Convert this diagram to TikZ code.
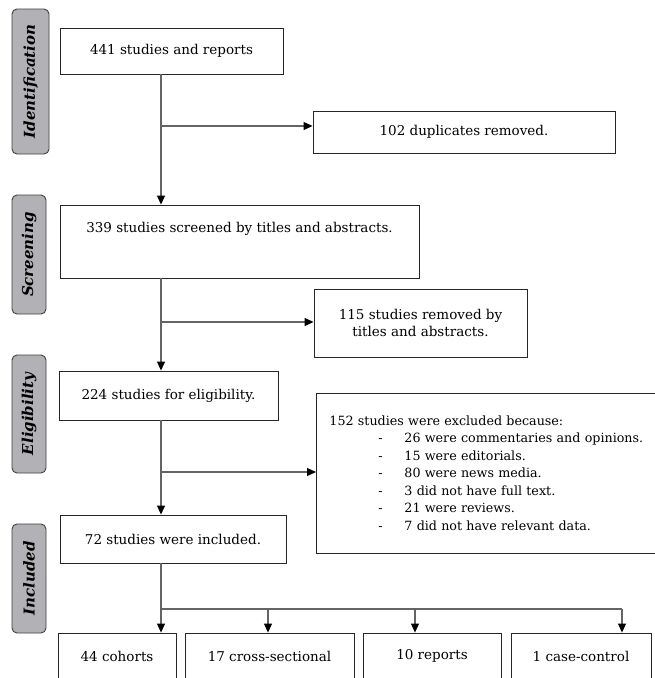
\documentclass[tikz,border=0pt]{standalone}
\usepackage{fontspec}
\setmainfont{DejaVu Serif}
\usetikzlibrary{arrows.meta}

\definecolor{stagegray}{RGB}{178,178,182}
\definecolor{flowgray}{RGB}{100,100,100}
\newcommand{\boxfont}{\fontsize{13.5pt}{17.5pt}\selectfont}
\newcommand{\listfont}{\fontsize{12.7pt}{17.5pt}\selectfont}
\newcommand{\stagefont}{\fontsize{15pt}{17pt}\selectfont\bfseries\itshape}
\newcommand{\dashitem}[1]{\hspace*{49pt}\makebox[26pt][l]{-}#1}

\begin{document}
\begin{tikzpicture}[x=1pt,y=-1pt,
		box/.style={draw=black!85,line width=0.9pt,inner sep=0pt,align=center,font=\boxfont},
		stage/.style={draw=black!75,fill=stagegray,line width=0.9pt,rounded corners=5pt,
			rotate=90,inner sep=0pt,font=\stagefont},
		flow/.style={draw=flowgray,line width=1.1pt,-{Triangle[length=9pt,width=8pt,color=black]}},
		link/.style={draw=flowgray,line width=1.1pt}]
		
		\path[use as bounding box,fill=white] (0,0) rectangle (655,678);
		\clip (0,0) rectangle (655,678);
		
		% stages on the left
		\node[stage,minimum width=145,minimum height=37] (idlab) at (30.5,81.5) {Identification};
		\node[stage,minimum width=119,minimum height=34] (scrlab) at (29,254.5) {Screening};
		\node[stage,minimum width=118,minimum height=34] (eliglab) at (29,414) {Eligibility};
		\node[stage,minimum width=109,minimum height=34] (incllab) at (29,578.5) {Included};
		
		% main column
		\node[box,minimum width=223,minimum height=46] (records) at (171.5,51) {441 studies and reports};
		\node[box,minimum width=359,minimum height=73] (screened) at (239.5,241.5)
			{339 studies screened by titles and abstracts.\\[11pt]\mbox{}};
		\node[box,minimum width=219,minimum height=49] (eligible) at (168.5,395.5) {224 studies for eligibility.};
		\node[box,minimum width=226,minimum height=48] (included) at (173,539) {72 studies were included.};
		
		% removed on the right
		\node[box,minimum width=302,minimum height=42] (duplicates) at (464,132) {102 duplicates removed.};
		\node[box,minimum width=213,minimum height=68] (removed) at (420.5,323) {115 studies removed by\\titles and abstracts.};
		\node[box,anchor=west,align=left,font=\listfont,inner xsep=13pt,text width=340pt,minimum height=160] (excluded) at (316,473)
			{152 studies were excluded because:\\
			\dashitem{26 were commentaries and opinions.}\\
			\dashitem{15 were editorials.}\\
			\dashitem{80 were news media.}\\
			\dashitem{3 did not have full text.}\\
			\dashitem{21 were reviews.}\\
			\dashitem{7 did not have relevant data.}};
		
		% study designs
		\node[box,minimum width=118,minimum height=46] (cohorts) at (117,656) {44 cohorts};
		\node[box,minimum width=169,minimum height=46] (crosssec) at (269.5,656) {17 cross-sectional};
		\node[box,minimum width=138,minimum height=46] (reports) at (432,656) {10 reports};
		\node[box,minimum width=140,minimum height=46] (casectrl) at (581,656) {1 case-control};
		
		% connectors
		\coordinate (spine) at (161,0);
		\coordinate (dupfork) at (161,126);
		\coordinate (remfork) at (161,322);
		\coordinate (excfork) at (161,472);
		\coordinate (s1) at (161,609);
		\coordinate (s2) at (268,609);
		\coordinate (s3) at (415,609);
		\coordinate (s4) at (622,609);
		
		\draw[flow] (records.south -| spine) -- (screened.north -| spine);
		\draw[flow] (screened.south -| spine) -- (eligible.north -| spine);
		\draw[flow] (eligible.south -| spine) -- (included.north -| spine);
		\draw[flow] (dupfork) -- (dupfork -| duplicates.west);
		\draw[flow] (remfork) -- (remfork -| removed.west);
		\draw[flow] (excfork) -- (excfork -| excluded.west);
		
		\draw[link] (included.south -| spine) -- (s1) -- (s4);
		\draw[flow] (s1) -- (s1 |- cohorts.north);
		\draw[flow] (s2) -- (s2 |- crosssec.north);
		\draw[flow] (s3) -- (s3 |- reports.north);
		\draw[flow] (s4) -- (s4 |- casectrl.north);
		
\end{tikzpicture}
\end{document}
